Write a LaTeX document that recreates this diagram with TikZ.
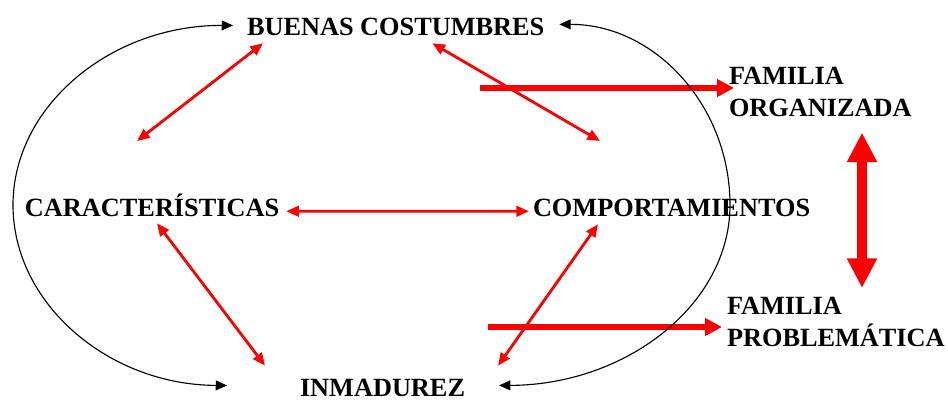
\documentclass[tikz,border=0pt]{standalone}
\usepackage{fontspec}
\setmainfont{Liberation Serif}
\usepackage{tikz}
\usetikzlibrary{arrows.meta}
\usetikzlibrary{calc}
\tikzset{every node/.style={inner sep=0pt, outer sep=0pt, font=\fontsize{18.7}{22.7}\selectfont\bfseries}}
\tikzset{thinRed/.style={draw=red, line width=2pt, {Triangle[length=9pt,width=7.5pt]}-{Triangle[length=9pt,width=7.5pt]}}}
\tikzset{thickRed/.style={draw=red, line width=4.3pt, -{Triangle[length=12pt,width=12pt]}}}
\tikzset{blackCurve/.style={draw=black, line width=0.8pt, {Triangle[length=8pt,width=7pt]}-{Triangle[length=8pt,width=7pt]}}}

\begin{document}
\begin{tikzpicture}[x=0.025cm,y=-0.025cm]
    \useasboundingbox (0,0) rectangle (948,402);

    \node[anchor=base west] (Buenas) at (247,35) {BUENAS COSTUMBRES};
    \node[anchor=base west] (Caract) at (25,216) {CARACTERÍSTICAS};
    \node[anchor=base west] (Comport) at (533,216) {COMPORTAMIENTOS};
    \node[anchor=base west] (Inmadurez) at (300,396) {INMADUREZ};
    \node[anchor=north west,align=left] (FamOrg) at (729,67) {FAMILIA\\ORGANIZADA};
    \node[anchor=north west,align=left] (FamProb) at (727,297) {FAMILIA\\PROBLEMÁTICA};

    \coordinate (BuenasLeft) at (137,141);
    \coordinate (BuenasRight) at (600,141);
    \coordinate (OrgStart) at (480,88);
    \coordinate (ProbStart) at (488,327);
    \coordinate (LeftMid) at (13,205);
    \coordinate (RightMid) at (730,205);

    \draw[thinRed] ($(Buenas.south west)+(16,8)$) -- (BuenasLeft);
    \draw[thinRed] ($(Buenas.south east)+(-112,8)$) -- (BuenasRight);
    \draw[thinRed] ($(Caract.south east)+(7,-5)$) -- ($(Comport.south west)+(-4,-5)$);
    \draw[thinRed] ($(Caract.south west)+(132,7)$) -- ($(Inmadurez.north west)+(-35,-13)$);
    \draw[thinRed] ($(Comport.south west)+(65,8)$) -- ($(Inmadurez.north east)+(33,-13)$);

    \draw[thickRed] (OrgStart) -- ($(FamOrg.north west)+(5,21)$);
    \draw[thickRed] (ProbStart) -- ($(FamProb.north west)+(-5,30)$);
    \draw[draw=red, line width=7pt, {Triangle[length=21pt,width=20pt]}-{Triangle[length=21pt,width=20pt]}]
        ($(FamOrg.south west)+(133,16)$) -- ($(FamProb.north west)+(135,-9)$);

    \draw[blackCurve] ($(Inmadurez.west)+(-73,-2)$) .. controls (109,385) and (13,304) .. (LeftMid)
        .. controls (13,106) and (111,25) .. ($(Buenas.west)+(-14,-1)$);
    \draw[blackCurve] ($(Buenas.east)+(15,-2)$) .. controls (654,24) and (730,105) .. (RightMid)
        .. controls (730,304) and (627,385) .. ($(Inmadurez.east)+(34,-2)$);

\end{tikzpicture}
\end{document}
